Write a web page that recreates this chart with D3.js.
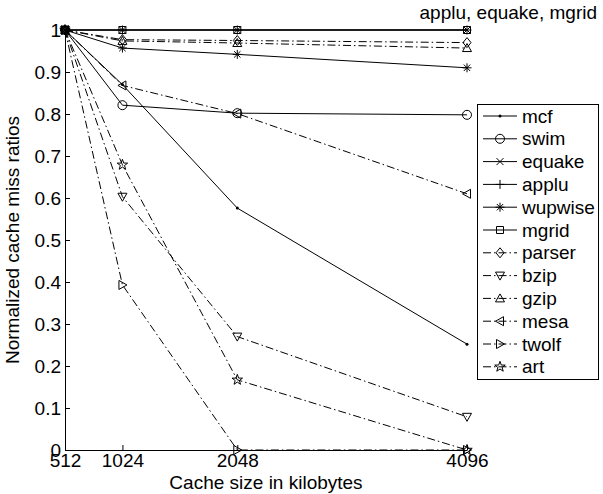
<!DOCTYPE html>
<html>
<head>
<meta charset="utf-8">
<script src="https://cdn.jsdelivr.net/npm/d3@7"></script>
<style>
  body { margin: 0; background: #fff; }
  text { font-family: "Liberation Sans", Arial, sans-serif; }
</style>
</head>
<body>
<div id="chart"></div>
<script>
// cache sizes (KB) on the x axis
const sizes = [512, 1024, 2048, 4096];
const yTicks = [0, 0.1, 0.2, 0.3, 0.4, 0.5, 0.6, 0.7, 0.8, 0.9, 1];

// normalized miss ratios per benchmark
const mcf     = [1, 0.87, 0.576, 0.252];
const swim    = [1, 0.821, 0.802, 0.798];
const equake  = [1, 1, 1, 1];
const applu   = [1, 1, 1, 1];
const wupwise = [1, 0.957, 0.942, 0.91];
const mgrid   = [1, 1, 1, 1];
const parser  = [1, 0.977, 0.975, 0.97];
const bzip    = [1, 0.603, 0.27, 0.079];
const gzip    = [1, 0.974, 0.969, 0.957];
const mesa    = [1, 0.868, 0.801, 0.61];
const twolf   = [1, 0.393, 0, 0];
const art     = [1, 0.679, 0.167, 0];

const series = [
  { name: "mcf", values: mcf, mark: "dot", dashed: false },
  { name: "swim", values: swim, mark: "circle", dashed: false },
  { name: "equake", values: equake, mark: "x", dashed: false },
  { name: "applu", values: applu, mark: "plus", dashed: false },
  { name: "wupwise", values: wupwise, mark: "asterisk", dashed: false },
  { name: "mgrid", values: mgrid, mark: "square", dashed: false },
  { name: "parser", values: parser, mark: "diamond", dashed: true },
  { name: "bzip", values: bzip, mark: "triDown", dashed: true },
  { name: "gzip", values: gzip, mark: "triUp", dashed: true },
  { name: "mesa", values: mesa, mark: "triLeft", dashed: true },
  { name: "twolf", values: twolf, mark: "triRight", dashed: true },
  { name: "art", values: art, mark: "star", dashed: true }
];

const W = 603, H = 494;
const svg = d3.select("#chart").append("svg")
  .attr("width", W).attr("height", H);

const x = d3.scaleLinear().domain([512, 4096]).range([65, 467]);
const y = d3.scaleLinear().domain([0, 1]).range([450, 30]);

// matlab-ish marker shapes
function markerPath(type) {
  const p = d3.path();
  if (type === "circle") {
    p.moveTo(4.5, 0); p.arc(0, 0, 4.5, 0, 2 * Math.PI);
  } else if (type === "x") {
    p.moveTo(-3.5, -3.5); p.lineTo(3.5, 3.5);
    p.moveTo(-3.5, 3.5); p.lineTo(3.5, -3.5);
  } else if (type === "plus") {
    p.moveTo(-4.5, 0); p.lineTo(4.5, 0);
    p.moveTo(0, -4.5); p.lineTo(0, 4.5);
  } else if (type === "asterisk") {
    p.moveTo(-4.5, 0); p.lineTo(4.5, 0);
    p.moveTo(0, -4.5); p.lineTo(0, 4.5);
    p.moveTo(-3.2, -3.2); p.lineTo(3.2, 3.2);
    p.moveTo(-3.2, 3.2); p.lineTo(3.2, -3.2);
  } else if (type === "square") {
    p.rect(-3.5, -3.5, 7, 7);
  } else if (type === "diamond") {
    p.moveTo(0, -5); p.lineTo(4, 0); p.lineTo(0, 5); p.lineTo(-4, 0); p.closePath();
  } else if (type === "triDown") {
    p.moveTo(-4.5, -3.5); p.lineTo(4.5, -3.5); p.lineTo(0, 4.5); p.closePath();
  } else if (type === "triUp") {
    p.moveTo(-4.5, 3.5); p.lineTo(4.5, 3.5); p.lineTo(0, -4.5); p.closePath();
  } else if (type === "triLeft") {
    p.moveTo(-4.5, 0); p.lineTo(3.5, -4.5); p.lineTo(3.5, 4.5); p.closePath();
  } else if (type === "triRight") {
    p.moveTo(4.5, 0); p.lineTo(-3.5, -4.5); p.lineTo(-3.5, 4.5); p.closePath();
  } else if (type === "star") {
    for (let i = 0; i < 10; i++) {
      const r = i % 2 === 0 ? 5.5 : 2.2;
      const a = -Math.PI / 2 + i * Math.PI / 5;
      if (i === 0) p.moveTo(r * Math.cos(a), r * Math.sin(a));
      else p.lineTo(r * Math.cos(a), r * Math.sin(a));
    }
    p.closePath();
  }
  return p.toString();
}

function drawMarker(g, type, cx, cy) {
  if (type === "dot") {
    g.append("circle").attr("cx", cx).attr("cy", cy).attr("r", 1.5).attr("fill", "#000");
  } else {
    g.append("path")
      .attr("d", markerPath(type))
      .attr("transform", `translate(${cx},${cy})`)
      .attr("fill", "none")
      .attr("stroke", "#000")
      .attr("stroke-width", 1);
  }
}

const dash = "8,3,1.5,3";

// axes, ticks pointing inward
svg.append("g")
  .attr("transform", "translate(0,450)")
  .call(d3.axisBottom(x).tickValues(sizes).tickFormat(d3.format("d"))
    .tickSizeInner(-5).tickSizeOuter(0).tickPadding(4))
  .call(g => g.selectAll("text").style("font-size", "19px").attr("fill", "#000"))
  .call(g => g.selectAll("line, path").attr("stroke", "#000"));

svg.append("g")
  .attr("transform", "translate(65,0)")
  .call(d3.axisLeft(y).tickValues(yTicks).tickFormat(d3.format(""))
    .tickSizeInner(-5).tickSizeOuter(0).tickPadding(4))
  .call(g => g.selectAll("text").style("font-size", "19px").attr("fill", "#000"))
  .call(g => g.selectAll("line, path").attr("stroke", "#000"));

// lines + markers
const line = d3.line()
  .x((d, i) => x(sizes[i]))
  .y(d => y(d));

series.forEach(s => {
  svg.append("path")
    .datum(s.values)
    .attr("d", line)
    .attr("fill", "none")
    .attr("stroke", "#000")
    .attr("stroke-width", 1)
    .attr("stroke-dasharray", s.dashed ? dash : null);
  const g = svg.append("g");
  s.values.forEach((v, i) => drawMarker(g, s.mark, x(sizes[i]), y(v)));
});

// axis labels
svg.append("text")
  .attr("x", 266).attr("y", 489)
  .attr("text-anchor", "middle")
  .style("font-size", "19px")
  .text("Cache size in kilobytes");

svg.append("text")
  .attr("transform", "translate(19,240) rotate(-90)")
  .attr("text-anchor", "middle")
  .style("font-size", "19px")
  .text("Normalized cache miss ratios");

// note for overlapping lines at 1
svg.append("text")
  .attr("x", 597).attr("y", 19)
  .attr("text-anchor", "end")
  .style("font-size", "19px")
  .text("applu, equake, mgrid");

// legend
const legend = svg.append("g");
legend.append("rect")
  .attr("x", 477.5).attr("y", 104.5)
  .attr("width", 121).attr("height", 275)
  .attr("fill", "#fff").attr("stroke", "#000");

series.forEach((s, i) => {
  const ly = 116 + i * 22.8;
  legend.append("line")
    .attr("x1", 483).attr("x2", 517)
    .attr("y1", ly).attr("y2", ly)
    .attr("stroke", "#000")
    .attr("stroke-dasharray", s.dashed ? dash : null);
  drawMarker(legend, s.mark, 500, ly);
  legend.append("text")
    .attr("x", 522).attr("y", ly)
    .attr("dy", "0.35em")
    .style("font-size", "19px")
    .text(s.name);
});
</script>
</body>
</html>
